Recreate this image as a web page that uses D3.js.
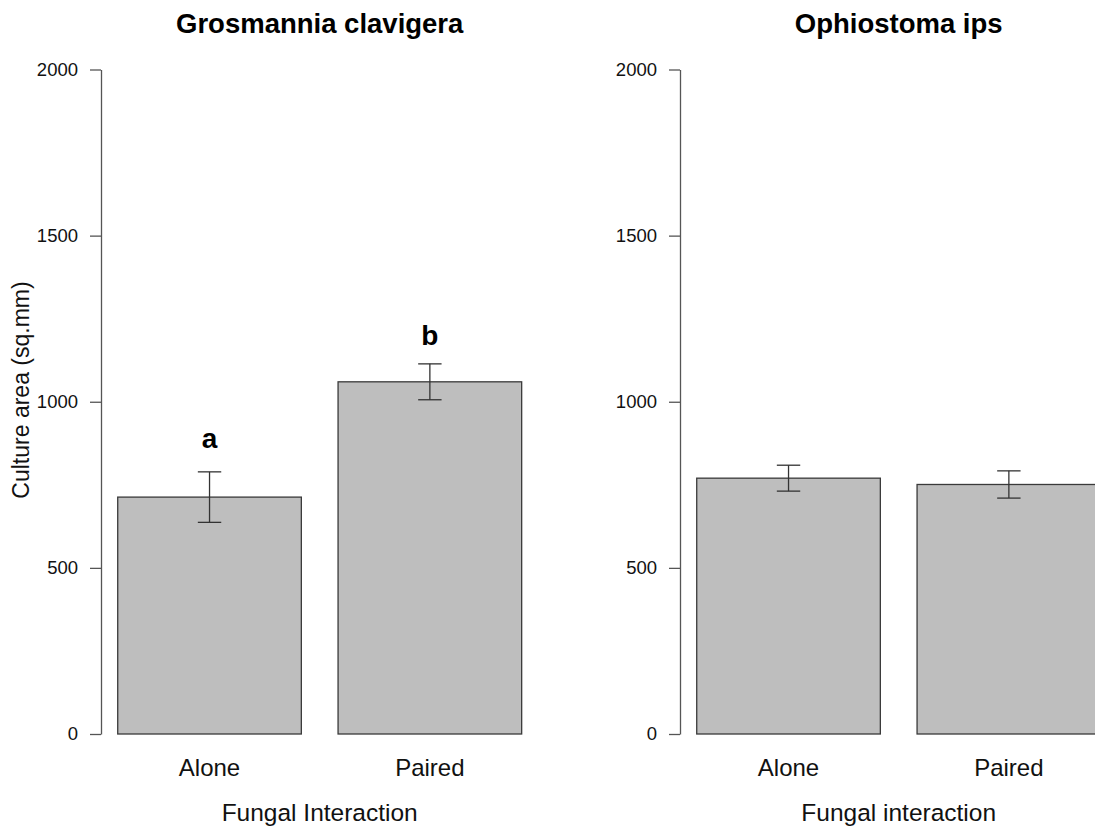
<!DOCTYPE html>
<html>
<head>
<meta charset="utf-8">
<script src="https://cdn.jsdelivr.net/npm/d3@7"></script>
<style>
  html, body { margin: 0; padding: 0; background: #fff; }
  svg { display: block; font-family: "Liberation Sans", Arial, sans-serif; }
</style>
</head>
<body>
<svg id="chart" width="1095" height="829"></svg>
<script>
// ---- data ----
const categories = ["Alone", "Paired"];
const panelTitles = ["Grosmannia clavigera", "Ophiostoma ips"];
const xAxisTitles = ["Fungal Interaction", "Fungal interaction"];
const yAxisTitle = "Culture area (sq.mm)";
const gcMeans = [713, 1060];
const gcSE = [76, 54];
const oiMeans = [770, 751];
const oiSE = [39, 41];
const gcLetters = ["a", "b"];
const gcLetterPos = [860, 1170];
const yTicks = [0, 500, 1000, 1500, 2000];

const panels = [
  { title: panelTitles[0], xlab: xAxisTitles[0], means: gcMeans, se: gcSE, letters: gcLetters, letterPos: gcLetterPos, offset: 0 },
  { title: panelTitles[1], xlab: xAxisTitles[1], means: oiMeans, se: oiSE, letters: null, letterPos: null, offset: 579 }
];

const svg = d3.select("#chart");
const y = d3.scaleLinear().domain([0, 2000]).range([734, 69.5]);

panels.forEach(p => {
  const g = svg.append("g").attr("transform", `translate(${p.offset},0)`);
  const x = d3.scaleBand().domain(categories).range([81, 558.4])
    .paddingInner(1 / 6).paddingOuter(1 / 6);
  const cx = (x(categories[0]) + x(categories[1]) + x.bandwidth()) / 2;

  // bars
  g.selectAll("rect.bar").data(categories).join("rect")
    .attr("class", "bar")
    .attr("x", d => x(d))
    .attr("width", x.bandwidth())
    .attr("y", (d, i) => y(p.means[i]))
    .attr("height", (d, i) => y(0) - y(p.means[i]))
    .attr("fill", "#bebebe")
    .attr("stroke", "#3a3a3a")
    .attr("stroke-width", 1.3);

  // error bars
  const capHalf = 11.7;
  categories.forEach((c, i) => {
    const mx = x(c) + x.bandwidth() / 2;
    const lo = y(p.means[i] - p.se[i]);
    const hi = y(p.means[i] + p.se[i]);
    const eg = g.append("g").attr("stroke", "#333").attr("stroke-width", 1.3);
    eg.append("line").attr("x1", mx).attr("x2", mx).attr("y1", lo).attr("y2", hi);
    eg.append("line").attr("x1", mx - capHalf).attr("x2", mx + capHalf).attr("y1", lo).attr("y2", lo);
    eg.append("line").attr("x1", mx - capHalf).attr("x2", mx + capHalf).attr("y1", hi).attr("y2", hi);
  });

  // significance letters
  if (p.letters) {
    g.selectAll("text.letter").data(p.letters).join("text")
      .attr("class", "letter")
      .attr("x", (d, i) => x(categories[i]) + x.bandwidth() / 2)
      .attr("y", (d, i) => y(p.letterPos[i]))
      .attr("text-anchor", "middle")
      .attr("font-size", 28).attr("font-weight", "bold").attr("fill", "#000")
      .text(d => d);
  }

  // y axis
  const ax = g.append("g").attr("transform", "translate(101,0)")
    .call(d3.axisLeft(y).tickValues(yTicks).tickSize(11).tickSizeOuter(0).tickPadding(12).tickFormat(d3.format("d")));
  ax.select(".domain").attr("stroke", "#555").attr("stroke-width", 1.3);
  ax.selectAll(".tick line").attr("stroke", "#555").attr("stroke-width", 1.3);
  ax.selectAll(".tick text").attr("font-size", 18.5).attr("fill", "#111")
    .attr("font-family", "Liberation Sans, Arial, sans-serif");

  // category labels
  g.selectAll("text.cat").data(categories).join("text")
    .attr("class", "cat")
    .attr("x", d => x(d) + x.bandwidth() / 2)
    .attr("y", 776)
    .attr("text-anchor", "middle")
    .attr("font-size", 24).attr("fill", "#111")
    .text(d => d);

  // x axis title
  g.append("text").attr("x", cx).attr("y", 821)
    .attr("text-anchor", "middle").attr("font-size", 24.5).attr("fill", "#111")
    .text(p.xlab);

  // panel title
  g.append("text").attr("x", cx).attr("y", 33)
    .attr("text-anchor", "middle").attr("font-size", 27.5).attr("font-weight", "bold").attr("fill", "#000")
    .text(p.title);
});

// y axis title
svg.append("text")
  .attr("transform", "translate(29,390) rotate(-90)")
  .attr("text-anchor", "middle").attr("font-size", 23).attr("fill", "#111")
  .text(yAxisTitle);
</script>
</body>
</html>
